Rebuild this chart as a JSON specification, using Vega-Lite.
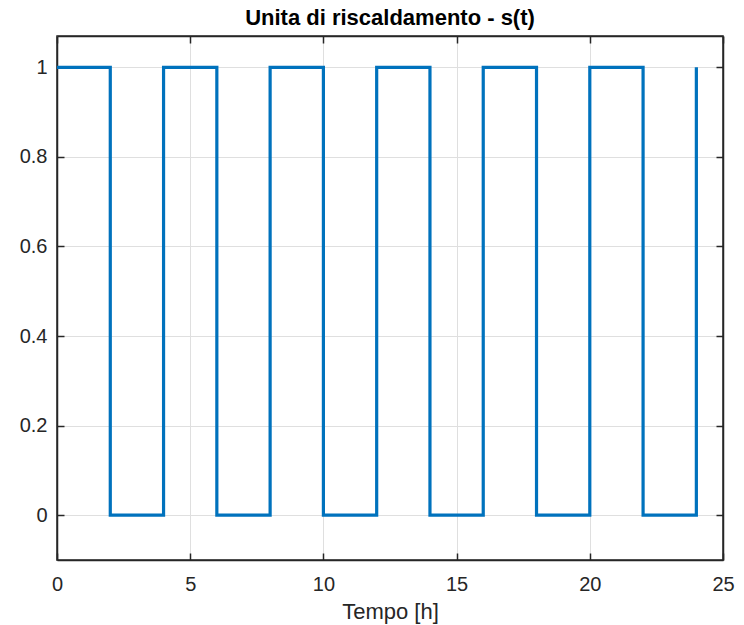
{
  "$schema": "https://vega.github.io/schema/vega-lite/v6.json",
  "autosize": "none",
  "width": 666,
  "height": 524,
  "padding": {"left": 57, "top": 36, "right": 21, "bottom": 65},
  "background": "white",
  "config": {
    "font": "Liberation Sans",
    "view": {"stroke": "#262626", "strokeWidth": 1.5},
    "axis": {
      "labelFont": "Liberation Sans",
      "titleFont": "Liberation Sans",
      "labelFontSize": 20,
      "titleFontSize": 22,
      "labelColor": "#262626",
      "titleColor": "#262626",
      "titleFontWeight": "normal",
      "domainColor": "#262626",
      "domainWidth": 1.5,
      "tickColor": "#262626",
      "tickWidth": 1.5,
      "tickSize": -7,
      "labelFlush": false,
      "gridColor": "#dfdfdf",
      "gridWidth": 1
    }
  },
  "title": {
    "text": "Unita di riscaldamento - s(t)",
    "font": "Liberation Sans",
    "fontSize": 22,
    "fontWeight": "bold",
    "color": "#000000",
    "offset": 5
  },
  "data": {
    "values": [
      {"t": 0, "s": 1},
      {"t": 2, "s": 0},
      {"t": 4, "s": 1},
      {"t": 6, "s": 0},
      {"t": 8, "s": 1},
      {"t": 10, "s": 0},
      {"t": 12, "s": 1},
      {"t": 14, "s": 0},
      {"t": 16, "s": 1},
      {"t": 18, "s": 0},
      {"t": 20, "s": 1},
      {"t": 22, "s": 0},
      {"t": 24, "s": 1}
    ]
  },
  "layer": [
    {
      "mark": {"type": "line", "interpolate": "step-after", "color": "#0072BD", "strokeWidth": 3.2, "clip": true},
      "encoding": {
        "x": {
          "field": "t", "type": "quantitative",
          "scale": {"domain": [0, 25], "nice": false, "zero": false},
          "axis": {"orient": "bottom", "values": [0, 5, 10, 15, 20, 25], "title": "Tempo [h]", "labelPadding": 21, "titlePadding": 7, "grid": true}
        },
        "y": {
          "field": "s", "type": "quantitative",
          "scale": {"domain": [-0.1, 1.07], "nice": false, "zero": false},
          "axis": {"orient": "left", "values": [0, 0.2, 0.4, 0.6, 0.8, 1], "format": ".1~f", "title": null, "labelPadding": 17, "grid": true}
        }
      }
    },
    {
      "mark": {"type": "line", "interpolate": "step-after", "strokeOpacity": 0},
      "encoding": {
        "x": {
          "field": "t", "type": "quantitative",
          "scale": {"domain": [0, 25], "nice": false, "zero": false},
          "axis": {"orient": "top", "values": [0, 5, 10, 15, 20, 25], "labels": false, "title": null, "grid": false}
        },
        "y": {
          "field": "s", "type": "quantitative",
          "scale": {"domain": [-0.1, 1.07], "nice": false, "zero": false},
          "axis": {"orient": "right", "values": [0, 0.2, 0.4, 0.6, 0.8, 1], "labels": false, "title": null, "grid": false}
        }
      }
    }
  ],
  "resolve": {"axis": {"x": "independent", "y": "independent"}}
}
